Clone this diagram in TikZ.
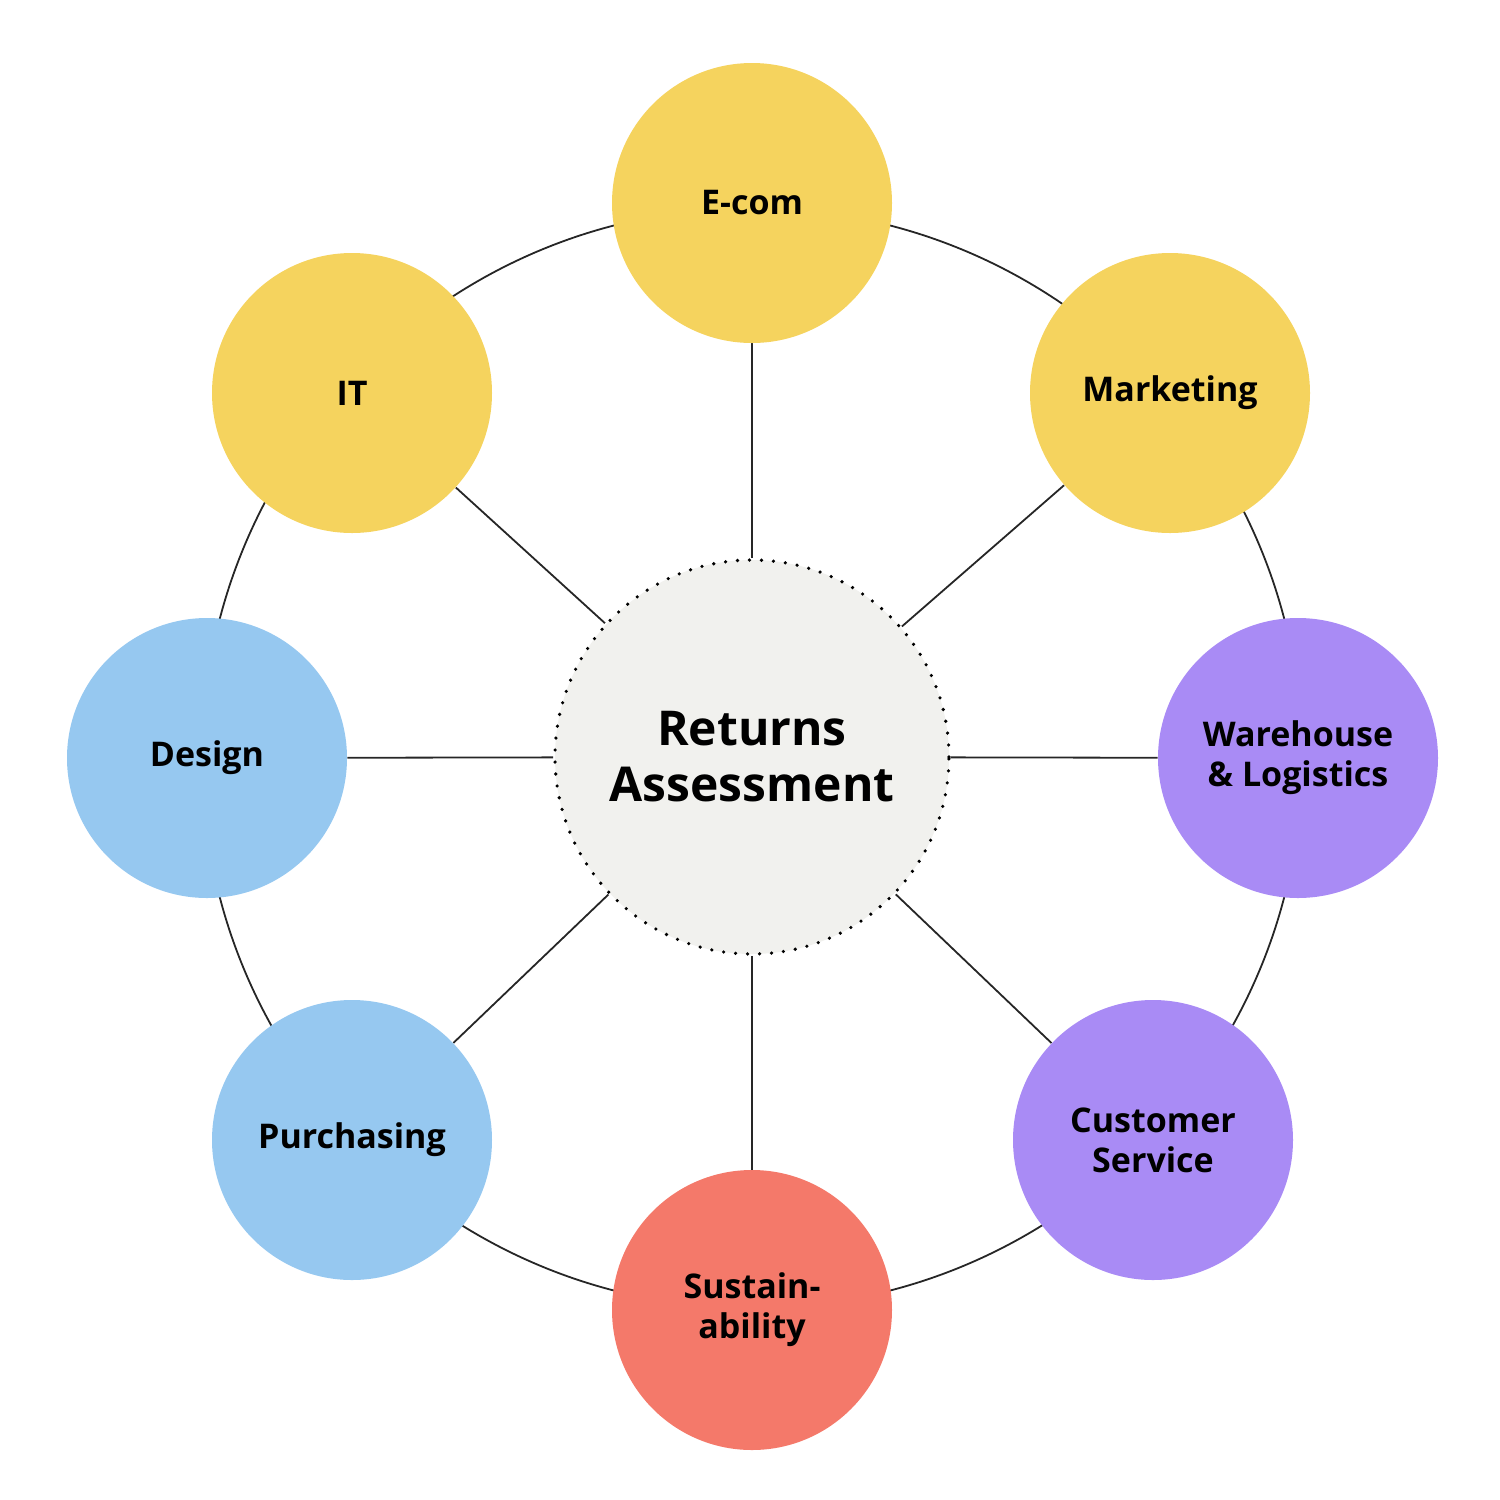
\documentclass[tikz,border=0pt]{standalone}
\usepackage{fontspec}
\setmainfont{Open Sans}
\usetikzlibrary{backgrounds}
\definecolor{cy}{HTML}{F5D35E}
\definecolor{cb}{HTML}{96C8F0}
\definecolor{cp}{HTML}{A98BF5}
\definecolor{cr}{HTML}{F4796A}
\definecolor{cc}{HTML}{F1F1EE}
\begin{document}
\begin{tikzpicture}[x=0.5pt,y=-0.5pt,
 sat/.style={circle,minimum size=140pt,inner sep=0pt,align=center,font=\fontsize{17}{20}\selectfont\bfseries},
 link/.style={line width=0.9pt,black!85}]
\useasboundingbox (0,0) rectangle (1500,1500);
\node[circle,minimum size=197pt,fill=cc,draw=black,line width=1.8pt,dash pattern=on 0pt off 6pt,line cap=round,align=center,font=\fontsize{24}{28}\selectfont\bfseries] (c) at (752,757) {Returns\\Assessment};
\node[sat,fill=cy] (ecom) at (752,203) {E-com};
\node[sat,fill=cy] (it) at (352,393) {IT};
\node[sat,fill=cy] (mkt) at (1170,393) {Marketing};
\node[sat,fill=cb] (des) at (207,758) {Design};
\node[sat,fill=cp] (wh) at (1298,758) {Warehouse\\\& Logistics};
\node[sat,fill=cb] (pur) at (352,1140) {Purchasing};
\node[sat,fill=cp] (cs) at (1153,1140) {Customer\\Service};
\node[sat,fill=cr] (sus) at (752,1310) {Sustain-\\ability};
\begin{scope}[on background layer]
\draw[link] (752,758) circle[radius=550];
\foreach \n in {ecom,it,mkt,des,wh,pur,cs,sus} \draw[link] (c) -- (\n);
\end{scope}
\end{tikzpicture}
\end{document}
